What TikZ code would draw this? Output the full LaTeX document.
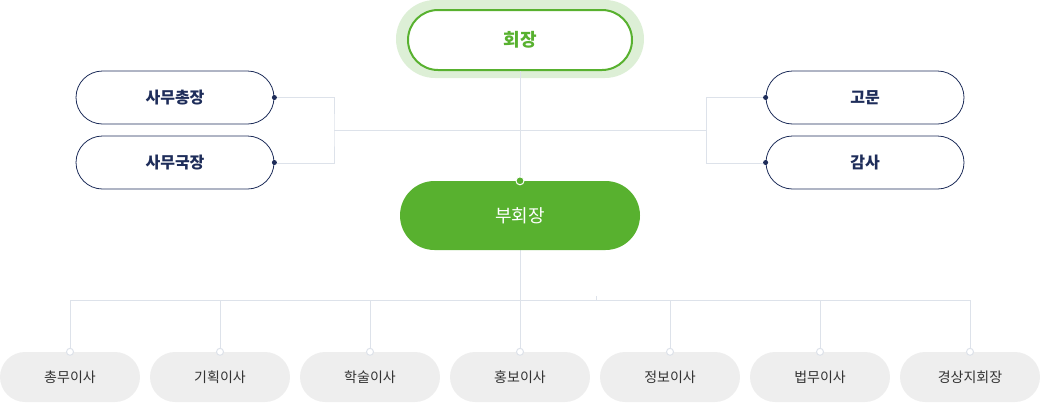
\documentclass[tikz,border=0pt]{standalone}
\usepackage{fontspec}
\setmainfont{Noto Sans CJK KR}
\usetikzlibrary{positioning}
\definecolor{leafgreen}{HTML}{58B12F}
\definecolor{halogreen}{HTML}{DDEFD6}
\definecolor{navy}{HTML}{1E2D5A}
\definecolor{wire}{HTML}{DDE2EA}
\definecolor{pill}{HTML}{EEEEEE}
\tikzset{
  staff/.style={draw=navy, line width=0.8pt, fill=white, rounded corners=26.5pt,
    minimum width=198pt, minimum height=53pt, text=navy, font=\fontsize{16}{18}\selectfont\bfseries},
  director/.style={fill=pill, rounded corners=25pt, minimum width=140pt,
    minimum height=50pt, text=black!80, font=\fontsize{14}{16}\selectfont},
  link/.style={draw=wire, line width=0.8pt},
  navydot/.style={circle, fill=navy, inner sep=0pt, minimum size=5pt},
  pindot/.style={circle, fill=white, draw=#1, line width=1pt, inner sep=0pt, minimum size=7pt}
}
\begin{document}
\begin{tikzpicture}[x=1pt,y=-1pt]
    \useasboundingbox (0,0) rectangle (1040,402);

    % top level
    \fill[halogreen, rounded corners=39pt] (396,0) rectangle (644,78);
    \node[draw=leafgreen, line width=2pt, fill=white, rounded corners=30pt,
      minimum width=224pt, minimum height=60pt, text=leafgreen,
      font=\fontsize{18}{20}\selectfont\bfseries] (chair) at (520,40) {회장};

    % wires
    \coordinate (lmid) at (334,130);
    \coordinate (rmid) at (706,130);
    \coordinate (bus) at (520,300);
    \draw[link] (chair.south) -- (520,181);
    \draw[link] (lmid) -- (rmid);
    \draw[link] (274,97) -| (lmid) |- (274,163);
    \draw[link] (766,97) -| (rmid) |- (766,163);
    \draw[link] (520,250) -- (bus);
    \draw[link] (70,300) -- (970,300);
    \draw[link] (596,296) -- (596,300);

    % side staff
    \node[staff] (secgen) at (175,97.5) {사무총장};
    \node[staff] (secoff) at (175,162.5) {사무국장};
    \node[staff] (advisor) at (865,97.5) {고문};
    \node[staff] (auditor) at (865,162.5) {감사};
    \node[navydot] at (secgen.east) {};
    \node[navydot] at (secoff.east) {};
    \node[navydot] at (advisor.west) {};
    \node[navydot] at (auditor.west) {};

    % vice chair
    \node[fill=leafgreen, rounded corners=34.5pt, minimum width=240pt,
      minimum height=69pt, text=white, font=\fontsize{18}{20}\selectfont] (vice) at (520,215.5) {부회장};
    \node[pindot=white, fill=leafgreen, minimum size=8pt] at (vice.north) {};

    % directors
    \foreach \x/\name in {70/총무이사, 220/기획이사, 370/학술이사, 520/홍보이사,
                          670/정보이사, 820/법무이사, 970/경상지회장} {
      \draw[link] (\x,300) -- (\x,352);
      \node[director] (d\x) at (\x,377) {\name};
      \node[pindot=wire] at (d\x.north) {};
    }
\end{tikzpicture}
\end{document}
